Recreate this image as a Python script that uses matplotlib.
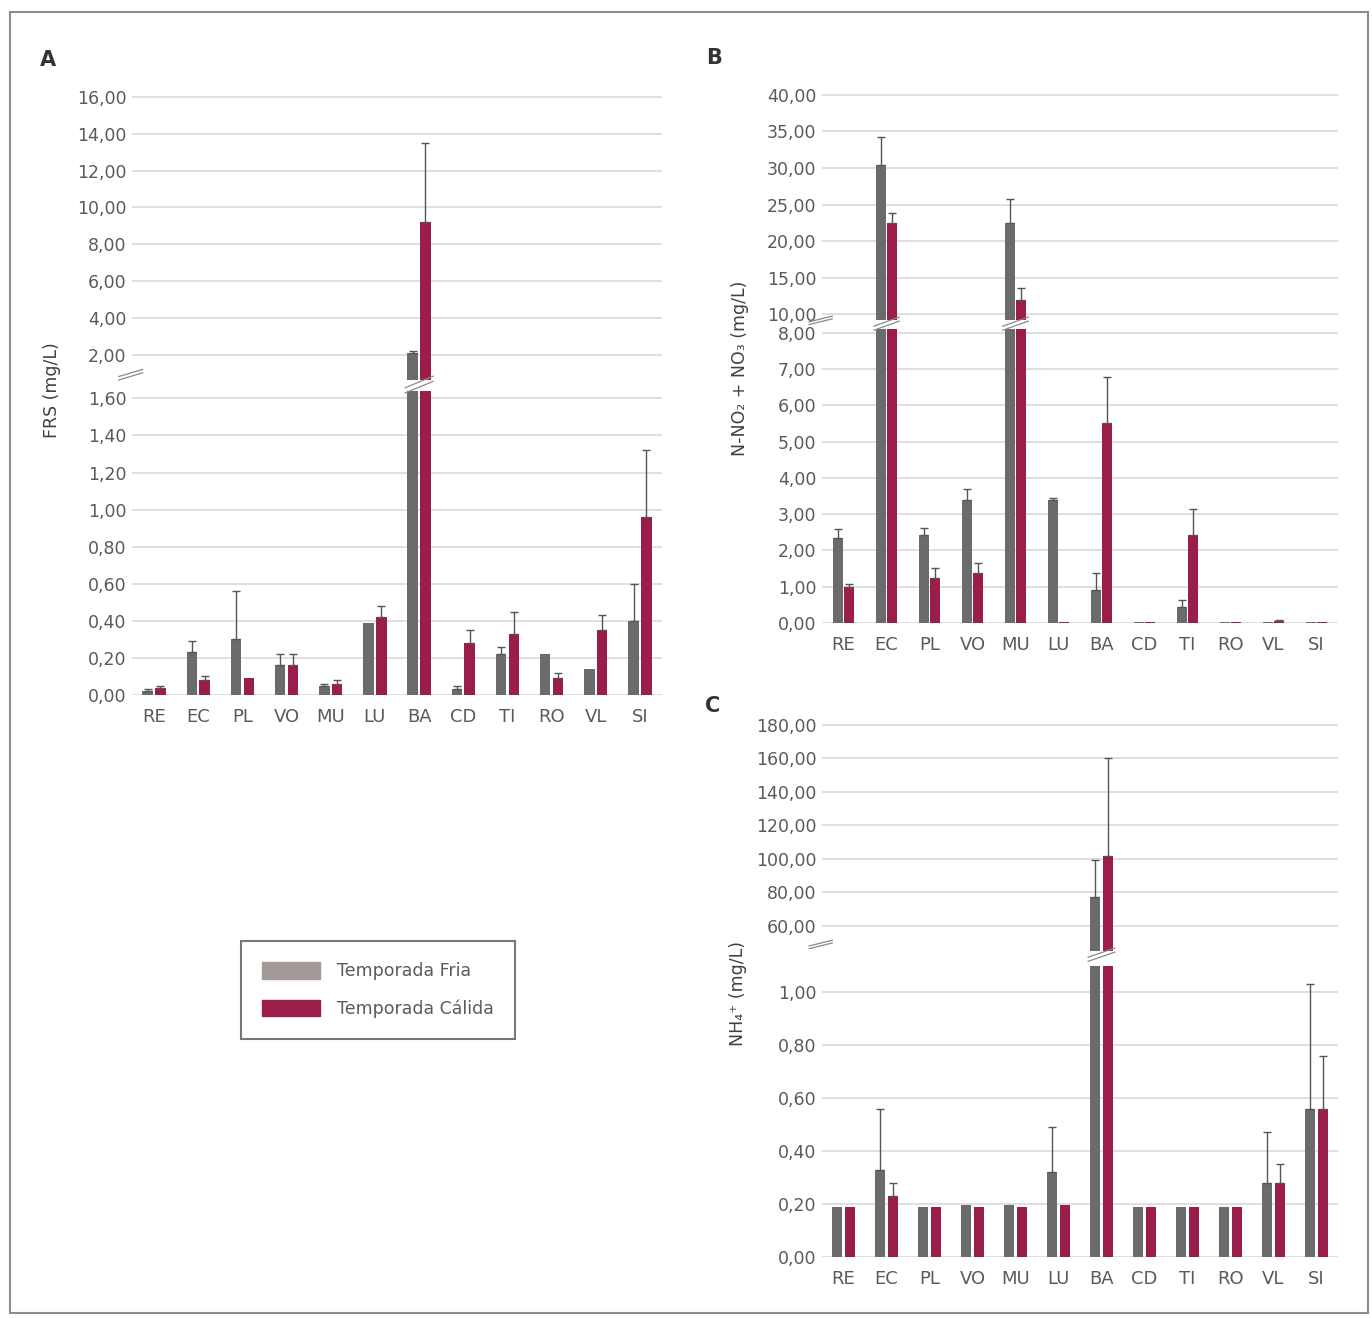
import matplotlib.pyplot as plt
from matplotlib.patches import Patch, Rectangle
import matplotlib.transforms as mtransforms
import numpy as np

sitios = ['RE', 'EC', 'PL', 'VO', 'MU', 'LU', 'BA', 'CD', 'TI', 'RO', 'VL', 'SI']

# A: FRS (mg/L)
frs_fria = [0.02, 0.23, 0.30, 0.16, 0.05, 0.39, 2.10, 0.03, 0.22, 0.22, 0.14, 0.40]
frs_fria_err = [0.01, 0.06, 0.26, 0.06, 0.01, 0.0, 0.10, 0.02, 0.04, 0.0, 0.0, 0.20]
frs_calida = [0.04, 0.08, 0.09, 0.16, 0.06, 0.42, 9.20, 0.28, 0.33, 0.09, 0.35, 0.96]
frs_calida_err = [0.01, 0.02, 0.0, 0.06, 0.02, 0.06, 4.30, 0.07, 0.12, 0.03, 0.08, 0.36]

# B: N-NO2 + NO3 (mg/L)
nit_fria = [2.34, 30.4, 2.43, 3.39, 22.5, 3.39, 0.91, 0.02, 0.44, 0.02, 0.02, 0.02]
nit_fria_err = [0.25, 3.8, 0.2, 0.3, 3.3, 0.05, 0.47, 0.0, 0.19, 0.0, 0.0, 0.0]
nit_calida = [1.0, 22.5, 1.24, 1.38, 11.9, 0.04, 5.52, 0.02, 2.43, 0.02, 0.05, 0.02]
nit_calida_err = [0.08, 1.3, 0.28, 0.28, 1.7, 0.0, 1.27, 0.0, 0.71, 0.0, 0.02, 0.0]

# C: NH4+ (mg/L)
amo_fria = [0.19, 0.33, 0.19, 0.195, 0.195, 0.32, 77.3, 0.19, 0.19, 0.19, 0.28, 0.56]
amo_fria_err = [0, 0.23, 0, 0, 0, 0.17, 22.1, 0, 0, 0, 0.19, 0.47]
amo_calida = [0.19, 0.23, 0.19, 0.19, 0.19, 0.196, 101.8, 0.19, 0.19, 0.19, 0.28, 0.56]
amo_calida_err = [0, 0.05, 0, 0, 0, 0, 58.2, 0, 0, 0, 0.07, 0.20]

ticks_a_lo = [0, 0.2, 0.4, 0.6, 0.8, 1.0, 1.2, 1.4, 1.6]
ticks_a_hi = [2, 4, 6, 8, 10, 12, 14, 16]
ticks_b_lo = [0, 1, 2, 3, 4, 5, 6, 7, 8]
ticks_b_hi = [10, 15, 20, 25, 30, 35, 40]
ticks_c_lo = [0, 0.2, 0.4, 0.6, 0.8, 1.0]
ticks_c_hi = [60, 80, 100, 120, 140, 160, 180]

c_fria = '#6b6b6b'
c_calida = '#9b1d4b'
c_text = '#5a5a5a'

W, H = 1372, 1318
fig = plt.figure(figsize=(W / 100, H / 100), dpi=100)
fig.patch.set_facecolor('white')


def box(x0, y0, x1, y1):
    # pixel box (top-left origin) -> figure fraction rect
    return [x0 / W, 1 - y1 / H, (x1 - x0) / W, (y1 - y0) / H]


def fmt(v):
    return f"{v:.2f}".replace('.', ',')


def style(ax, ticks, lim, show_x):
    ax.set_ylim(*lim)
    ax.set_xlim(-0.5, 11.5)
    ax.set_yticks(ticks, [fmt(t) for t in ticks])
    ax.yaxis.grid(True, color='#dcdcdc', lw=1.3)
    ax.set_axisbelow(True)
    for s in ax.spines.values():
        s.set_visible(False)
    ax.tick_params(length=0, labelsize=12.5, labelcolor=c_text, pad=4)
    if show_x:
        ax.set_xticks(range(len(sitios)), sitios)
        ax.tick_params(axis='x', pad=9, labelsize=13)
    else:
        ax.set_xticks([])


def bars(ax, fria, fria_e, cal, cal_e, off, w, floor=None):
    x = np.arange(len(sitios))
    fria = np.array(fria, float)
    cal = np.array(cal, float)
    fe = np.array(fria_e, float)
    ce = np.array(cal_e, float)
    if floor is not None:
        fria_h = np.where(fria > floor, fria, 0)
        cal_h = np.where(cal > floor, cal, 0)
    else:
        fria_h, cal_h = fria, cal
    ax.bar(x - off, fria_h, w, color=c_fria, zorder=2)
    ax.bar(x + off, cal_h, w, color=c_calida, zorder=2)
    for xs, v, e in ((x - off, fria_h, fe), (x + off, cal_h, ce)):
        m = (e > 0) & (v > 0)
        ax.errorbar(xs[m], v[m], yerr=[np.zeros(m.sum()), e[m]], fmt='none',
                    ecolor='#555555', elinewidth=1, capsize=3, capthick=1, zorder=3)


def breaks(ax_hi, cats, off, w, ymark):
    tr = mtransforms.blended_transform_factory(ax_hi.transData, ax_hi.transAxes)
    for i in cats:
        for dy in (0.0, 0.018):
            ax_hi.plot([i - off - w / 2 - 0.05, i + off + w / 2 + 0.05],
                       [-0.045 + dy, -0.005 + dy], color='#8a8a8a', lw=0.9,
                       transform=tr, clip_on=False, zorder=5)
    for dy in (0.0, 0.012):
        ax_hi.plot([-0.025, 0.02], [ymark + dy, ymark + 0.025 + dy], color='#8a8a8a',
                   lw=0.9, transform=ax_hi.transAxes, clip_on=False)


# Panel A
axA_lo = fig.add_axes(box(132, 391, 662, 695))
axA_hi = fig.add_axes(box(132, 93, 662, 380))
bars(axA_lo, frs_fria, frs_fria_err, frs_calida, frs_calida_err, 0.145, 0.24)
bars(axA_hi, frs_fria, frs_fria_err, frs_calida, frs_calida_err, 0.145, 0.24, floor=1.64)
style(axA_lo, ticks_a_lo, (0, 1.64), True)
style(axA_hi, ticks_a_hi, (0.65, 16.2), False)
breaks(axA_hi, [6], 0.145, 0.24, 0.0)

# Panel B
axB_lo = fig.add_axes(box(822, 328.6, 1338, 623))
axB_hi = fig.add_axes(box(822, 92, 1338, 320))
bars(axB_lo, nit_fria, nit_fria_err, nit_calida, nit_calida_err, 0.13, 0.23)
bars(axB_hi, nit_fria, nit_fria_err, nit_calida, nit_calida_err, 0.13, 0.23, floor=8.12)
style(axB_lo, ticks_b_lo, (0, 8.12), True)
style(axB_hi, ticks_b_hi, (9.2, 40.4), False)
breaks(axB_hi, [1, 4], 0.13, 0.23, -0.02)

# Panel C
axC_lo = fig.add_axes(box(822, 965.5, 1338, 1257))
axC_hi = fig.add_axes(box(822, 721.6, 1338, 951))
bars(axC_lo, amo_fria, amo_fria_err, amo_calida, amo_calida_err, 0.145, 0.23)
bars(axC_hi, amo_fria, amo_fria_err, amo_calida, amo_calida_err, 0.145, 0.23, floor=1.1)
style(axC_lo, ticks_c_lo, (0, 1.1), True)
style(axC_hi, ticks_c_hi, (45, 182), False)
breaks(axC_hi, [6], 0.145, 0.23, 0.01)

# axis titles and panel letters
fig.text(52 / W, 1 - 390 / H, 'FRS (mg/L)', rotation=90, ha='center', va='center',
         fontsize=12.5, color='#404040')
fig.text(740 / W, 1 - 368 / H, 'N-NO₂ + NO₃ (mg/L)', rotation=90, ha='center',
         va='center', fontsize=12.5, color='#404040')
fig.text(738 / W, 1 - 993 / H, 'NH₄⁺ (mg/L)', rotation=90, ha='center', va='center',
         fontsize=12.5, color='#404040')
for lab, (px, py) in zip('ABC', [(48, 60), (714, 58), (713, 706)]):
    fig.text(px / W, 1 - py / H, lab, ha='center', va='center', fontsize=15,
             fontweight='bold', color='#333333')

# legend
handles = [Patch(color='#a39a97', label='Temporada Fria'),
           Patch(color=c_calida, label='Temporada Cálida')]
leg = fig.legend(handles=handles, loc='center', bbox_to_anchor=(378 / W, 1 - 990 / H),
                 frameon=True, fancybox=False, handlelength=3.3, handleheight=1.1,
                 labelspacing=1.1, borderpad=1.2, handletextpad=1.0, fontsize=12.5,
                 labelcolor=c_text, edgecolor='#555555')
leg.get_frame().set_linewidth(1.5)

# outer frame
fig.patches.append(Rectangle((10 / W, 1 - 1313 / H), 1358 / W, 1301 / H,
                             transform=fig.transFigure, fill=False,
                             edgecolor='#8c8c8c', lw=1.5))

fig.savefig('out.png', dpi=100)
